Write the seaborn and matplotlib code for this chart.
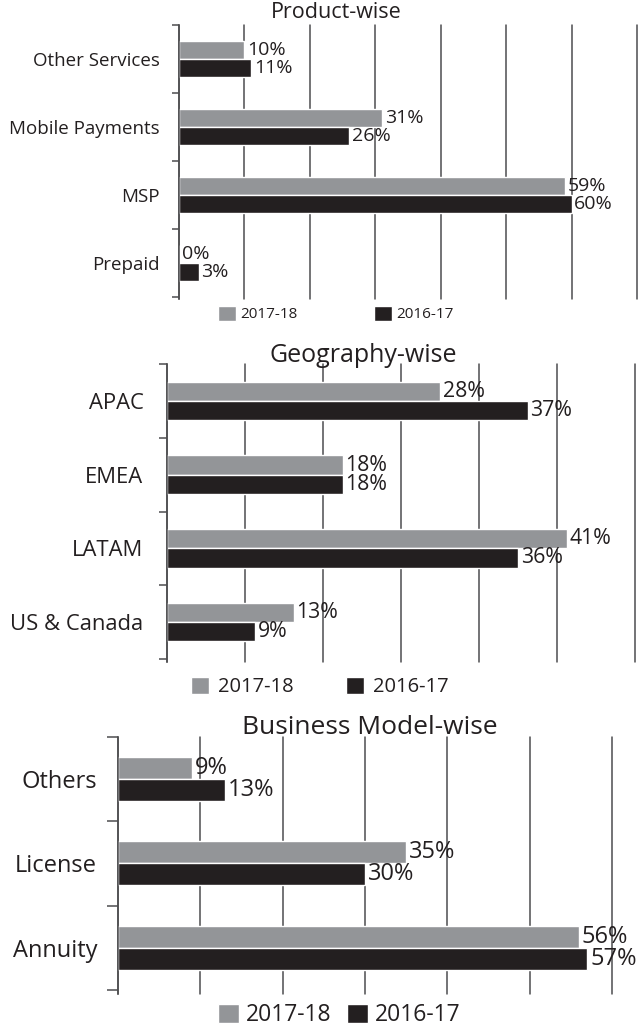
import pandas as pd
import matplotlib
matplotlib.use("Agg")
import matplotlib.pyplot as plt
import seaborn as sns

# data
years = ["2017-18", "2016-17"]

product_cats = ["Other Services", "Mobile Payments", "MSP", "Prepaid"]
product_1718 = [10, 31, 59, 0]
product_1617 = [11, 26, 60, 3]

geo_cats = ["APAC", "EMEA", "LATAM", "US & Canada"]
geo_1718 = [28, 18, 41, 13]
geo_1617 = [37, 18, 36, 9]

biz_cats = ["Others", "License", "Annuity"]
biz_1718 = [9, 35, 56]
biz_1617 = [13, 30, 57]

gray = "#939598"
black = "#231f20"
line_col = "#4d4d4f"

sns.set_style("white")
plt.rcParams["font.family"] = ["Open Sans", "DejaVu Sans"]
plt.rcParams["text.color"] = black

W, H = 639, 1026
fig = plt.figure(figsize=(W / 100, H / 100), dpi=100)


def px_rect(x0, x1, y0, y1):
    return [x0 / W, 1 - y1 / H, (x1 - x0) / W, (y1 - y0) / H]


def draw_panel(rect, cats, v1, v2, xmax, step, extra, title, title_xy, title_fs,
               tick_fs, tick_pad, tick_len, val_fs, leg_xy, leg_fs, hsize, tpad, cspace):
    df = pd.DataFrame({
        "cat": cats * 2,
        "val": v1 + v2,
        "year": [years[0]] * len(cats) + [years[1]] * len(cats),
    })
    ax = fig.add_axes(rect)
    sns.barplot(data=df, y="cat", x="val", hue="year", hue_order=years, orient="h",
                palette=[gray, black], width=0.52, saturation=1, errorbar=None,
                legend=False, ax=ax)
    n = len(cats)
    ax.set_xlim(0, xmax)
    ax.set_ylim(n - 0.5 + extra, -0.5)
    ax.set_xticks(range(0, xmax + 1, step))
    ax.set_xticklabels([])
    ax.tick_params(axis="x", length=0)
    ax.grid(axis="x", color=line_col, linewidth=1.1)
    ax.grid(axis="y", visible=False)
    for gl in ax.get_xgridlines():
        gl.set_clip_on(False)
    ax.set_axisbelow(True)
    for s in ["top", "right", "bottom"]:
        ax.spines[s].set_visible(False)
    ax.spines["left"].set_color(line_col)
    ax.spines["left"].set_linewidth(1.1)
    ax.set_yticks(range(n))
    ax.set_yticklabels(cats, fontsize=tick_fs, color=black)
    ax.set_yticks([i - 0.5 for i in range(n + 1)], minor=True)
    ax.tick_params(axis="y", which="major", length=0, pad=tick_pad)
    ax.tick_params(axis="y", which="minor", length=tick_len, width=1.1,
                   color=line_col, direction="out", left=True)
    ax.set_xlabel("")
    ax.set_ylabel("")

    for cont, vals in zip(ax.containers, [v1, v2]):
        ax.bar_label(cont, labels=[f"{v}%" for v in vals], padding=2,
                     fontsize=val_fs, color=black)

    fig.text(title_xy[0] / W, 1 - title_xy[1] / H, title, ha="center", va="center",
             fontsize=title_fs, color=black)

    fig.legend(ax.containers, years, loc="center",
               bbox_to_anchor=(leg_xy[0] / W, 1 - leg_xy[1] / H), ncol=2,
               frameon=False, fontsize=leg_fs, handlelength=hsize, handleheight=hsize,
               handletextpad=tpad, columnspacing=cspace, borderaxespad=0)
    return ax


draw_panel(px_rect(179, 637, 25, 299), product_cats, product_1718, product_1617,
           70, 10, 0.03, "Product-wise", (336, 13), 15.5,
           13.5, 14, 5, 14, (336, 314), 11, 1.15, 0.3, 5.0)

draw_panel(px_rect(167, 635, 364, 662), geo_cats, geo_1718, geo_1617,
           48, 8, 0.04, "Geography-wise", (363, 356), 18,
           15.8, 17, 6, 15.3, (320, 687), 14.5, 0.9, 0.45, 2.6)

draw_panel(px_rect(118, 612, 737, 994), biz_cats, biz_1718, biz_1617,
           60, 10, 0.05, "Business Model-wise", (370, 727), 19,
           17, 15, 8, 17, (339, 1015), 16.5, 0.9, 0.3, 0.7)

fig.savefig("out.png", dpi=100)
